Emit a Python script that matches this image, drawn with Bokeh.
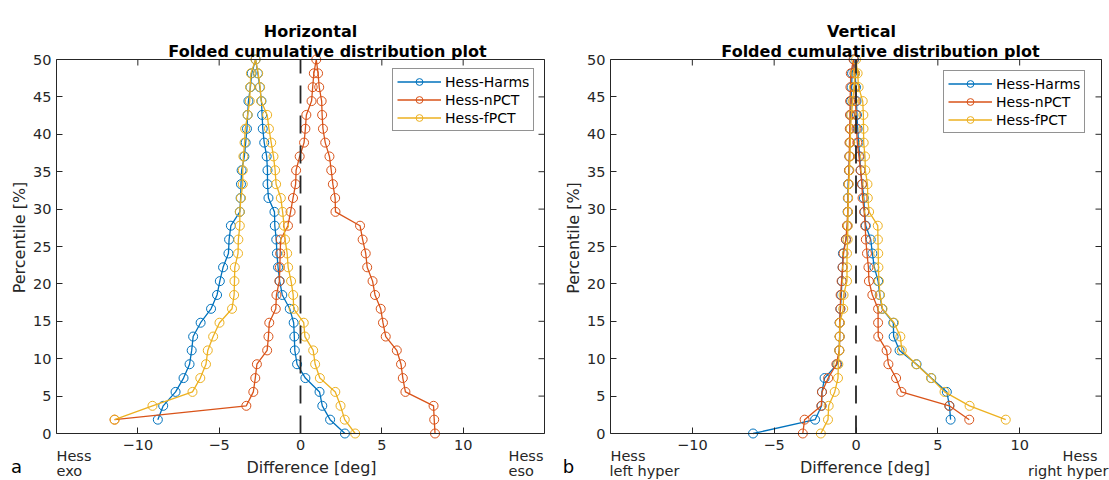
import math
from bokeh.plotting import figure
from bokeh.models import (Range1d, FixedTicker, LinearAxis, Label, Legend,
                          LegendItem, ColumnDataSource)
from bokeh.layouts import row
from bokeh.embed import file_html
from bokeh.resources import INLINE

# ---------------- data ----------------
# percentile levels of the folded cumulative distribution
PCT = [0.0, 1.85, 3.7, 5.56, 7.41, 9.26, 11.11, 12.96, 14.81, 16.67, 18.52,
       20.37, 22.22, 24.07, 25.93, 27.78, 29.63, 31.48, 33.33, 35.19, 37.04,
       38.89, 40.74, 42.59, 44.44, 46.3, 48.15, 50.0]

SERIES_NAMES = ["Hess-Harms", "Hess-nPCT", "Hess-fPCT"]
COLORS = ["#0072BD", "#D95319", "#EDB120"]

# Horizontal: rising branch (1.85 -> 50 %), falling branch (48.15 -> 0 %)
H_HARMS_UP = [-8.77, -8.44, -7.68, -7.19, -6.82, -6.69, -6.60, -6.14, -5.50,
              -5.13, -4.96, -4.76, -4.43, -4.39, -4.28, -3.73, -3.68, -3.66,
              -3.62, -3.45, -3.37, -3.29, -3.25, -3.20, -3.08, -3.00, -2.76]
H_HARMS_DOWN = [-2.62, -2.50, -2.40, -2.36, -2.32, -2.23, -2.08, -2.03, -2.03,
                -1.97, -1.60, -1.58, -1.49, -1.45, -1.38, -1.28, -1.12, -0.66,
                -0.42, -0.38, -0.35, -0.21, 0.30, 1.17, 1.34, 1.82, 2.73]
H_NPCT_UP = [-11.43, -3.33, -2.90, -2.78, -2.68, -2.05, -1.97, -1.92, -1.52,
             -1.48, -1.30, -1.27, -1.25, -1.22, -0.77, -0.61, -0.46, -0.30,
             -0.27, -0.05, 0.22, 0.30, 0.36, 0.68, 0.75, 0.82, 0.97]
H_NPCT_DOWN = [1.08, 1.15, 1.30, 1.33, 1.38, 1.52, 1.78, 1.89, 1.99, 2.13,
               2.15, 3.66, 3.82, 4.01, 4.10, 4.43, 4.58, 4.93, 5.07, 5.24,
               5.92, 6.18, 6.29, 6.45, 8.18, 8.22, 8.27]
H_FPCT_UP = [-11.43, -9.10, -6.64, -6.16, -5.81, -5.70, -5.37, -4.98, -4.21,
             -4.08, -4.06, -4.04, -3.84, -3.82, -3.73, -3.73, -3.66, -3.55,
             -3.55, -3.51, -3.44, -3.40, -3.25, -3.12, -3.10, -3.05, -2.76]
H_FPCT_DOWN = [-2.60, -2.48, -2.42, -2.05, -1.94, -1.80, -1.66, -1.56, -1.50,
               -1.21, -1.10, -1.01, -0.95, -0.82, -0.76, -0.58, -0.45, -0.42,
               0.20, 0.27, 0.78, 0.90, 1.19, 2.14, 2.46, 2.72, 3.36]

# Vertical: rising branch (0 -> 50 %), falling branch (48.15 -> 1.85 %)
V_HARMS_UP = [-6.29, -2.50, -2.10, -2.08, -1.92, -1.15, -1.02, -1.00, -1.00,
              -0.95, -0.90, -0.86, -0.82, -0.80, -0.61, -0.52, -0.51, -0.50,
              -0.48, -0.43, -0.40, -0.37, -0.35, -0.33, -0.30, -0.27, -0.24,
              -0.12]
V_HARMS_DOWN = [-0.06, 0.00, 0.03, 0.06, 0.10, 0.16, 0.23, 0.28, 0.38, 0.48,
                0.52, 0.60, 0.90, 1.00, 1.12, 1.35, 1.45, 1.60, 2.28, 2.30,
                2.66, 3.70, 4.60, 5.55, 5.71, 5.78]
V_NPCT_UP = [-3.25, -3.14, -2.12, -2.08, -1.70, -1.20, -1.02, -1.00, -1.00,
             -0.96, -0.94, -0.88, -0.82, -0.76, -0.62, -0.55, -0.50, -0.48,
             -0.46, -0.43, -0.41, -0.40, -0.38, -0.37, -0.36, -0.34, -0.32,
             -0.15]
V_NPCT_DOWN = [-0.10, -0.06, -0.03, 0.00, 0.03, 0.08, 0.18, 0.28, 0.36, 0.40,
               0.50, 0.56, 0.60, 0.67, 0.76, 0.79, 1.00, 1.35, 1.35, 1.36,
               1.87, 1.98, 2.45, 2.77, 5.70, 6.92]
V_FPCT_UP = [-2.15, -1.71, -1.67, -1.30, -1.10, -1.08, -1.02, -1.00, -0.98,
             -0.78, -0.76, -0.55, -0.55, -0.55, -0.51, -0.50, -0.49, -0.48,
             -0.45, -0.40, -0.37, -0.35, -0.33, -0.28, -0.20, -0.12, -0.06,
             0.00]
V_FPCT_DOWN = [0.10, 0.16, 0.41, 0.45, 0.46, 0.47, 0.55, 0.57, 0.70, 0.72,
               0.80, 1.33, 1.34, 1.36, 1.37, 1.40, 1.47, 1.62, 2.32, 2.71,
               2.80, 3.67, 4.58, 5.41, 6.94, 9.15]

X_TICKS = [-10, -5, 0, 5, 10]
Y_TICKS = [0, 5, 10, 15, 20, 25, 30, 35, 40, 45, 50]
X_LIM = (-15, 15)
Y_LIM = (0, 50)

AX = "#262626"
FONT = "DejaVu Sans"
H = 480
TICK_LEN = 6


class Panel:
    """A full-canvas figure whose axes box sits at given pixel bounds."""

    def __init__(self, width, box_left, box_right, box_top, box_bottom):
        self.w = width
        self.kx = (box_right - box_left) / (X_LIM[1] - X_LIM[0])
        self.ky = (box_bottom - box_top) / (Y_LIM[1] - Y_LIM[0])
        self.x0 = X_LIM[0] - box_left / self.kx
        self.x1 = X_LIM[1] + (width - box_right) / self.kx
        self.y1 = Y_LIM[1] + box_top / self.ky
        self.y0 = Y_LIM[0] - (H - box_bottom) / self.ky
        p = figure(width=width, height=H, output_backend="svg",
                   toolbar_location=None, x_range=Range1d(self.x0, self.x1),
                   y_range=Range1d(self.y0, self.y1), min_border=0,
                   x_axis_location=None, y_axis_location=None)
        p.title.visible = False
        p.grid.visible = False
        p.outline_line_color = None
        p.background_fill_color = "white"
        p.border_fill_color = "white"
        self.p = p

    def X(self, px):
        return self.x0 + px / self.kx

    def Y(self, py):
        return self.y1 - py / self.ky

    def text(self, px, py, text, size, align="center", baseline="alphabetic",
             bold=False, angle=0.0, color=AX):
        self.p.add_layout(Label(
            x=self.X(px), y=self.Y(py), text=text, text_font=FONT,
            text_font_size=size, text_align=align, text_baseline=baseline,
            text_color=color, text_font_style="bold" if bold else "normal",
            angle=angle))

    def axes(self):
        p = self.p
        common = dict(major_tick_in=TICK_LEN, major_tick_out=0,
                      minor_tick_line_color=None, axis_line_color=AX,
                      axis_line_width=1, major_tick_line_color=AX,
                      major_label_text_color=AX, major_label_text_font=FONT,
                      major_label_text_font_size="14.5px")
        xb = LinearAxis(fixed_location=Y_LIM[0], bounds=X_LIM,
                        ticker=FixedTicker(ticks=X_TICKS),
                        major_label_standoff=6, **common)
        yl = LinearAxis(fixed_location=X_LIM[0], bounds=Y_LIM,
                        ticker=FixedTicker(ticks=Y_TICKS),
                        major_label_standoff=5, **common)
        p.add_layout(xb, "below")
        p.add_layout(yl, "left")
        # top and right edges of the box (no labels)
        xt = LinearAxis(fixed_location=Y_LIM[1], bounds=X_LIM,
                        ticker=FixedTicker(ticks=[]), axis_line_color=AX,
                        minor_tick_line_color=None)
        yr = LinearAxis(fixed_location=X_LIM[1], bounds=Y_LIM,
                        ticker=FixedTicker(ticks=[]), axis_line_color=AX,
                        minor_tick_line_color=None)
        p.add_layout(xt, "above")
        p.add_layout(yr, "right")
        # inward tick marks on top and right edges
        dy = TICK_LEN / self.ky
        dx = TICK_LEN / self.kx
        p.segment(x0=X_TICKS, y0=[Y_LIM[1]] * len(X_TICKS), x1=X_TICKS,
                  y1=[Y_LIM[1] - dy] * len(X_TICKS), line_color=AX,
                  line_width=1)
        p.segment(x0=[X_LIM[1]] * len(Y_TICKS), y0=Y_TICKS,
                  x1=[X_LIM[1] - dx] * len(Y_TICKS), y1=Y_TICKS,
                  line_color=AX, line_width=1)

    def data(self, series, legend_xy):
        p = self.p
        items = []
        for name, col, xs, ys in series:
            src = ColumnDataSource(dict(x=xs, y=ys))
            ln = p.line("x", "y", source=src, line_color=col, line_width=1.3)
            sc = p.scatter("x", "y", source=src, marker="circle", size=9,
                           fill_color=None, line_color=col, line_width=1)
            items.append(LegendItem(label=name, renderers=[ln, sc]))
        # dashed zero reference line
        p.segment(x0=[0], y0=[Y_LIM[0]], x1=[0], y1=[Y_LIM[1]],
                  line_color=AX, line_dash="18 12", line_width=1.8)
        leg = Legend(items=items, location=legend_xy, glyph_width=44,
                     glyph_height=17, label_height=17, padding=4, spacing=1,
                     label_standoff=4, margin=0, border_line_color=AX,
                     border_line_width=1, background_fill_alpha=1.0,
                     label_text_font=FONT, label_text_font_size="14px",
                     label_text_color="black")
        p.add_layout(leg)


h_series = [
    (SERIES_NAMES[0], COLORS[0], H_HARMS_UP + H_HARMS_DOWN, PCT[1:] + PCT[26::-1]),
    (SERIES_NAMES[1], COLORS[1], H_NPCT_UP + H_NPCT_DOWN, PCT[1:] + PCT[26::-1]),
    (SERIES_NAMES[2], COLORS[2], H_FPCT_UP + H_FPCT_DOWN, PCT[1:] + PCT[26::-1]),
]
v_series = [
    (SERIES_NAMES[0], COLORS[0], V_HARMS_UP + V_HARMS_DOWN, PCT[:] + PCT[26:0:-1]),
    (SERIES_NAMES[1], COLORS[1], V_NPCT_UP + V_NPCT_DOWN, PCT[:] + PCT[26:0:-1]),
    (SERIES_NAMES[2], COLORS[2], V_FPCT_UP + V_FPCT_DOWN, PCT[:] + PCT[26:0:-1]),
]

# ---- left panel: Horizontal ----
a = Panel(555, 56, 544, 59, 433)
a.axes()
a.data(h_series, (392, 480 - 131))
a.text(310, 31, "Horizontal", "16px", bold=True, color="black")
a.text(327, 51, "Folded cumulative distribution plot", "16px", bold=True,
       color="black")
a.text(18.5, 237, "Percentile [%]", "16px", baseline="middle",
       angle=math.pi / 2)
a.text(311, 467, "Difference [deg]", "16px")
a.text(56, 455, "Hess", "14.5px", align="left")
a.text(56, 470, "exo", "14.5px", align="left")
a.text(508, 455, "Hess", "14.5px", align="left")
a.text(508, 470, "eso", "14.5px", align="left")
a.text(16, 466, "a", "18px", color="black")

# ---- right panel: Vertical ----
b = Panel(554, 55, 546, 59, 433)
b.axes()
b.data(v_series, (388, 480 - 133))
b.text(306, 31, "Vertical", "16px", bold=True, color="black")
b.text(325, 51, "Folded cumulative distribution plot", "16px", bold=True,
       color="black")
b.text(17.7, 237.5, "Percentile [%]", "16px", baseline="middle",
       angle=math.pi / 2)
b.text(309.5, 467, "Difference [deg]", "16px")
b.text(55, 455, "Hess", "14.5px", align="left")
b.text(54, 470, "left hyper", "14.5px", align="left")
b.text(507, 455, "Hess", "14.5px", align="left")
b.text(553, 470, "right hyper", "14.5px", align="right")
b.text(13, 466, "b", "18px", color="black")

layout = row(a.p, b.p)
open("out.html", "w").write(file_html(layout, INLINE))
